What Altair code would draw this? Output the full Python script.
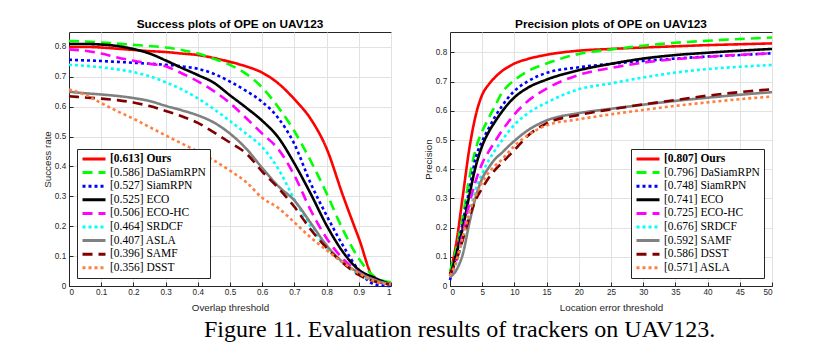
import altair as alt
import pandas as pd

# ---------------- Success plot data ----------------
succ_x = [0.0, 0.05, 0.1, 0.15, 0.2, 0.25, 0.3, 0.35, 0.4, 0.45, 0.5,
          0.55, 0.6, 0.65, 0.7, 0.75, 0.8, 0.85, 0.9, 0.95, 1.0]
succ_names = ["Ours", "DaSiamRPN", "SiamRPN", "ECO", "ECO-HC", "SRDCF", "ASLA", "SAMF", "DSST"]
succ_scores = ["0.613", "0.586", "0.527", "0.525", "0.506", "0.464", "0.407", "0.396", "0.356"]
succ_ours = [0.800, 0.800, 0.798, 0.794, 0.790, 0.786, 0.783, 0.778, 0.773, 0.763, 0.750,
             0.735, 0.714, 0.678, 0.625, 0.560, 0.460, 0.305, 0.160, 0.020, 0.005]
succ_dasiam = [0.820, 0.818, 0.815, 0.811, 0.807, 0.803, 0.798, 0.790, 0.778, 0.760, 0.740,
               0.710, 0.664, 0.598, 0.518, 0.420, 0.310, 0.190, 0.092, 0.030, 0.012]
succ_siamrpn = [0.757, 0.755, 0.753, 0.750, 0.747, 0.744, 0.740, 0.735, 0.727, 0.710, 0.684,
                0.653, 0.616, 0.562, 0.475, 0.345, 0.236, 0.137, 0.053, 0.005, 0.000]
succ_eco = [0.810, 0.810, 0.808, 0.803, 0.793, 0.778, 0.755, 0.730, 0.706, 0.680, 0.638,
            0.597, 0.553, 0.497, 0.410, 0.310, 0.203, 0.115, 0.054, 0.027, 0.005]
succ_ecohc = [0.792, 0.787, 0.778, 0.765, 0.754, 0.744, 0.735, 0.712, 0.685, 0.652, 0.612,
              0.562, 0.510, 0.458, 0.370, 0.255, 0.160, 0.092, 0.046, 0.020, 0.005]
succ_srdcf = [0.740, 0.737, 0.732, 0.725, 0.716, 0.702, 0.682, 0.658, 0.628, 0.592, 0.552,
              0.510, 0.465, 0.392, 0.290, 0.200, 0.128, 0.078, 0.038, 0.017, 0.005]
succ_asla = [0.650, 0.645, 0.641, 0.636, 0.629, 0.619, 0.603, 0.588, 0.571, 0.547, 0.510,
             0.460, 0.395, 0.334, 0.286, 0.212, 0.136, 0.080, 0.045, 0.020, 0.006]
succ_samf = [0.635, 0.631, 0.627, 0.622, 0.614, 0.602, 0.586, 0.568, 0.546, 0.514, 0.480,
             0.444, 0.383, 0.328, 0.265, 0.190, 0.128, 0.078, 0.037, 0.015, 0.005]
succ_dsst = [0.658, 0.640, 0.612, 0.585, 0.560, 0.532, 0.504, 0.477, 0.450, 0.420, 0.386,
             0.348, 0.295, 0.261, 0.213, 0.163, 0.120, 0.079, 0.043, 0.016, 0.005]
succ_series = [succ_ours, succ_dasiam, succ_siamrpn, succ_eco, succ_ecohc,
               succ_srdcf, succ_asla, succ_samf, succ_dsst]

# ---------------- Precision plot data ----------------
prec_x = [0, 1, 2, 3, 4, 5, 6, 7, 8, 9, 10, 12, 15, 20, 25, 30, 35, 40, 45, 50]
prec_names = ["Ours", "DaSiamRPN", "SiamRPN", "ECO", "ECO-HC", "SRDCF", "SAMF", "DSST", "ASLA"]
prec_scores = ["0.807", "0.796", "0.748", "0.741", "0.725", "0.676", "0.592", "0.586", "0.571"]
prec_ours = [0.040, 0.150, 0.310, 0.470, 0.585, 0.655, 0.690, 0.715, 0.735, 0.750,
             0.762, 0.777, 0.792, 0.806, 0.812, 0.817, 0.821, 0.825, 0.828, 0.831]
prec_dasiam = [0.050, 0.130, 0.240, 0.370, 0.470, 0.530, 0.575, 0.617, 0.660, 0.686,
               0.705, 0.735, 0.762, 0.795, 0.810, 0.823, 0.833, 0.840, 0.846, 0.851]
prec_siamrpn = [0.020, 0.110, 0.220, 0.330, 0.440, 0.497, 0.540, 0.580, 0.614, 0.644,
                0.668, 0.700, 0.730, 0.749, 0.761, 0.771, 0.779, 0.786, 0.791, 0.797]
prec_eco = [0.035, 0.110, 0.200, 0.310, 0.410, 0.480, 0.527, 0.563, 0.595, 0.623,
            0.646, 0.678, 0.707, 0.739, 0.761, 0.779, 0.791, 0.799, 0.806, 0.812]
prec_ecohc = [0.035, 0.090, 0.180, 0.280, 0.360, 0.420, 0.460, 0.495, 0.530, 0.560,
              0.588, 0.632, 0.676, 0.723, 0.747, 0.765, 0.777, 0.785, 0.792, 0.797]
prec_srdcf = [0.035, 0.080, 0.160, 0.250, 0.330, 0.385, 0.430, 0.465, 0.497, 0.526,
              0.552, 0.590, 0.628, 0.674, 0.694, 0.714, 0.731, 0.743, 0.751, 0.757]
prec_samf = [0.030, 0.055, 0.110, 0.215, 0.305, 0.368, 0.405, 0.435, 0.455, 0.477,
             0.497, 0.532, 0.567, 0.592, 0.607, 0.621, 0.634, 0.645, 0.655, 0.664]
prec_dsst = [0.040, 0.090, 0.160, 0.235, 0.295, 0.335, 0.370, 0.398, 0.420, 0.443,
             0.465, 0.513, 0.557, 0.586, 0.605, 0.622, 0.637, 0.652, 0.664, 0.674]
prec_asla = [0.035, 0.085, 0.170, 0.250, 0.310, 0.355, 0.388, 0.412, 0.432, 0.456,
             0.480, 0.515, 0.550, 0.571, 0.588, 0.603, 0.617, 0.629, 0.640, 0.649]
prec_series = [prec_ours, prec_dasiam, prec_siamrpn, prec_eco, prec_ecohc,
               prec_srdcf, prec_samf, prec_dsst, prec_asla]

# style by rank
line_colors = ["#ff0000", "#00ff00", "#0000ff", "#000000", "#ff00ff",
               "#00ffff", "#808080", "#800000", "#ff7f3f"]
line_dashes = [[1, 0], [10, 6], [3, 3], [1, 0], [10, 6], [3, 3], [1, 0], [10, 6], [3, 3]]

succ_ticks = [0, 0.1, 0.2, 0.3, 0.4, 0.5, 0.6, 0.7, 0.8, 0.9, 1.0]
prec_ticks = [0, 5, 10, 15, 20, 25, 30, 35, 40, 45, 50]
y_ticks = [0, 0.1, 0.2, 0.3, 0.4, 0.5, 0.6, 0.7, 0.8]


def build_df(xs, names, scores, series):
    rows = []
    for name, score, ys in zip(names, scores, series):
        lab = f"[{score}] {name}"
        for xv, yv in zip(xs, ys):
            rows.append({"x": xv, "y": yv, "label": lab})
    return pd.DataFrame(rows)


def panel(df, labels, title, xtitle, ytitle, xdomain, ydomain, xvals, orient):
    leg = alt.Legend(
        title=None, orient=orient, offset=8,
        symbolType="stroke", symbolSize=529, symbolStrokeWidth=3,
        labelFont="Liberation Serif", labelFontSize=11.5, labelColor="black",
        labelFontWeight={"expr": "indexof(datum.label, 'Ours') >= 0 ? 'bold' : 'normal'"},
        labelLimit=0, labelOffset=3,
        strokeColor="#262626", fillColor="white", padding=4,
        clipHeight=12, rowPadding=1.6,
    )
    W, H = 322, 254
    return alt.Chart(df).mark_line(strokeWidth=2.6, interpolate="monotone", strokeCap="butt").encode(
        x=alt.X("x:Q", scale=alt.Scale(domain=xdomain, nice=False, zero=False),
                axis=alt.Axis(values=xvals, format="~g", title=xtitle,
                              titleX=W / 2, titleY=21.5, titleBaseline="middle",
                              labelPadding=6.5, tickSize={"expr": "-4"})),
        y=alt.Y("y:Q", scale=alt.Scale(domain=ydomain, nice=False, zero=False),
                axis=alt.Axis(values=y_ticks, format="~g", title=ytitle,
                              titleX=-22, titleY=H / 2, titleBaseline="middle",
                              titleAngle=-90,
                              labelPadding=7.3, tickSize={"expr": "-4"})),
        color=alt.Color("label:N", scale=alt.Scale(domain=labels, range=line_colors),
                        sort=labels, legend=leg),
        strokeDash=alt.StrokeDash("label:N", scale=alt.Scale(domain=labels, range=line_dashes),
                                  sort=labels, legend=leg),
    ).properties(
        width=W, height=H,
        title=alt.TitleParams(title, font="Liberation Sans", fontSize=11.8, fontWeight="bold",
                              color="black", anchor="middle", offset=1),
    )


succ_labels = [f"[{s}] {n}" for n, s in zip(succ_names, succ_scores)]
prec_labels = [f"[{s}] {n}" for n, s in zip(prec_names, prec_scores)]

left = panel(build_df(succ_x, succ_names, succ_scores, succ_series), succ_labels,
             "Success plots of OPE on UAV123", "Overlap threshold", "Success rate",
             [0, 1], [0, 0.85], succ_ticks, "bottom-left")
right = panel(build_df(prec_x, prec_names, prec_scores, prec_series), prec_labels,
              "Precision plots of OPE on UAV123", "Location error threshold", "Precision",
              [0, 50], [0, 0.87], prec_ticks, "bottom-right")

chart = alt.hconcat(left, right, spacing=25).resolve_scale(
    color="independent", strokeDash="independent"
).properties(
    padding={"left": 41, "top": 18, "right": 5, "bottom": 5},
    background="white",
    title=alt.TitleParams("Figure 11. Evaluation results of trackers on UAV123.",
                          orient="bottom", anchor="middle", font="Liberation Serif",
                          fontSize=24, fontWeight="normal", color="black", offset=5, dx=50),
).configure_view(
    stroke="#262626", strokeWidth=1
).configure_axis(
    domainColor="#262626", tickColor="#262626", gridColor="#e2e2e2", grid=True,
    labelFont="Liberation Sans", labelFontSize=8.2, labelColor="#262626",
    titleFont="Liberation Sans", titleFontSize=9.8, titleFontWeight="normal",
    titleColor="#262626",
)

chart.save("out.html", embed_options={"renderer": "svg", "actions": False})
